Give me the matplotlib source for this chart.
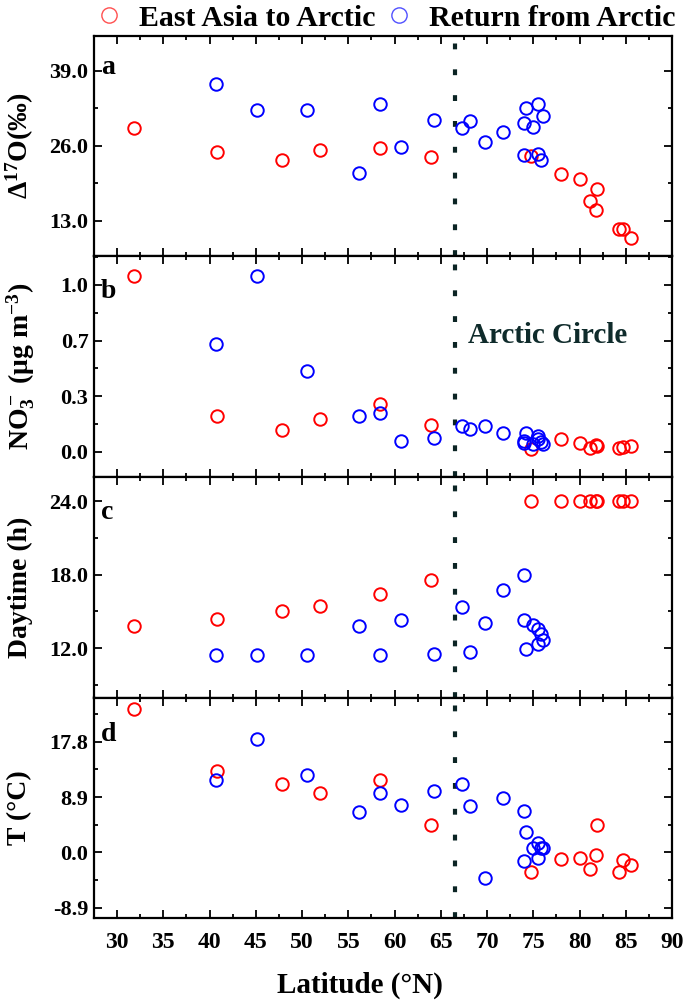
import matplotlib
matplotlib.use("Agg")
import matplotlib.pyplot as plt
from matplotlib.lines import Line2D
from matplotlib.ticker import MultipleLocator, FixedLocator, FixedFormatter

plt.rcParams['font.family'] = ['Liberation Serif', 'DejaVu Serif']
plt.rcParams['font.weight'] = 'bold'
plt.rcParams['mathtext.fontset'] = 'custom'
plt.rcParams['mathtext.rm'] = 'Liberation Serif:bold'
plt.rcParams['mathtext.it'] = 'Liberation Serif:italic:bold'
plt.rcParams['mathtext.bf'] = 'Liberation Serif:bold'

# ---------------- data ----------------
red_lat = [31.85, 40.85, 47.8, 51.9, 58.45, 63.9, 74.8, 77.95, 80.05, 81.1, 81.8, 81.9, 84.3, 84.7, 85.6]
red_d17O = [29.1, 24.95, 23.6, 25.2, 25.65, 24.05, 24.2, 21.1, 20.2, 16.45, 14.8, 18.45, 11.55, 11.55, 10.0]
red_no3 = [1.052, 0.213, 0.133, 0.199, 0.289, 0.161, 0.018, 0.076, 0.052, 0.022, 0.040, 0.036, 0.024, 0.028, 0.038]
red_day = [13.77, 14.4, 15.03, 15.46, 16.41, 17.56, 24.0, 24.0, 24.0, 24.0, 24.0, 24.0, 24.0, 24.0, 24.0]
red_T = [22.98, 13.09, 11.06, 9.62, 11.59, 4.38, -3.11, -1.12, -0.97, -2.73, -0.38, 4.38, -3.11, -1.23, -2.04]

blue_lat = [40.7, 45.15, 50.5, 56.15, 58.45, 60.65, 64.3, 67.25, 68.15, 69.8, 71.7,
            73.95, 74.05, 74.2, 74.95, 75.5, 75.55, 75.85, 76.05]
blue_d17O = [36.65, 32.1, 32.1, 21.35, 33.2, 25.8, 30.5, 29.1, 30.35, 26.7, 28.3,
             24.4, 29.9, 32.5, 29.3, 24.55, 33.25, 23.5, 31.2]
blue_no3 = [0.645, 1.052, 0.484, 0.215, 0.235, 0.068, 0.084, 0.158, 0.137, 0.157, 0.113,
            0.068, 0.056, 0.113, 0.050, 0.096, 0.080, 0.060, 0.046]
blue_day = [11.45, 11.45, 11.45, 13.8, 11.45, 14.26, 11.5, 15.35, 11.67, 14.07, 16.72,
            18.0, 14.32, 11.91, 13.88, 13.55, 12.35, 13.17, 12.7]
blue_T = [11.59, 18.17, 12.5, 6.51, 9.56, 7.64, 9.83, 11.06, 7.53, -4.12, 8.82,
          6.6, -1.3, 3.3, 0.64, 1.44, -0.96, 0.64, 0.7]

series_labels = ['East Asia to Arctic', 'Return from Arctic']
panel_letters = ['a', 'b', 'c', 'd']
ylabels = [r'$\Delta^{17}$O(‰)', r'NO$_3^-$ (μg m$^{-3}$)', 'Daytime (h)', 'T (°C)']
yticks = [[13.0, 26.0, 39.0], [0.0, 1/3, 2/3, 1.0], [12.0, 18.0, 24.0], [-8.9, 0.0, 8.9, 17.8]]
yticklabels = [['13.0', '26.0', '39.0'], ['0.0', '0.3', '0.7', '1.0'],
               ['12.0', '18.0', '24.0'], ['-8.9', '0.0', '8.9', '17.8']]
ylims = [(6.8, 45.0), (-0.15, 1.17), (7.97, 25.96), (-10.54, 24.9)]
yminor = [6.5, 1/6, 3.0, 4.45]
xticks = [30, 35, 40, 45, 50, 55, 60, 65, 70, 75, 80, 85, 90]
arctic_lat = 66.5

red_vals = [red_d17O, red_no3, red_day, red_T]
blue_vals = [blue_d17O, blue_no3, blue_day, blue_T]

# ---------------- figure ----------------
fig = plt.figure(figsize=(6.85, 10.05), dpi=100)
gs = fig.add_gridspec(4, 1, left=94/685, right=672/685, top=1-36/1005, bottom=1-918/1005, hspace=0)
axes = [fig.add_subplot(gs[i]) for i in range(4)]

RED = '#ff0000'
BLUE = '#0000ff'
ms = 9.0
mew = 1.4

for i, ax in enumerate(axes):
    ax.plot(red_lat, red_vals[i], linestyle='none', marker='o', markersize=ms,
            markerfacecolor='none', markeredgecolor=RED, markeredgewidth=mew, zorder=3)
    ax.plot(blue_lat, blue_vals[i], linestyle='none', marker='o', markersize=ms,
            markerfacecolor='none', markeredgecolor=BLUE, markeredgewidth=mew, zorder=4)
    ax.axvline(arctic_lat, color='#0b2424', linewidth=3.0, linestyle=(0, (1.4, 4.8)), zorder=2)
    ax.set_xlim(27.5, 90)
    ax.set_ylim(*ylims[i])
    ax.xaxis.set_major_locator(FixedLocator(xticks))
    ax.xaxis.set_minor_locator(MultipleLocator(2.5))
    ax.yaxis.set_major_locator(FixedLocator(yticks[i]))
    ax.yaxis.set_major_formatter(FixedFormatter(yticklabels[i]))
    ax.yaxis.set_minor_locator(MultipleLocator(yminor[i]))
    ax.tick_params(which='both', direction='in', top=True, right=True, width=1.3)
    ax.tick_params(which='major', length=6)
    ax.tick_params(which='minor', length=3)
    ax.tick_params(axis='y', labelsize=16, pad=4)
    for sp in ax.spines.values():
        sp.set_linewidth(1.6)
    ax.text(0.012, [0.855, 0.84, 0.84, 0.83][i], panel_letters[i], transform=ax.transAxes,
            fontsize=20, fontweight='bold', ha='left', va='center')
    ax.set_ylabel(ylabels[i], fontsize=20, fontweight='bold')
    ax.yaxis.label.set_va('center')
    ax.yaxis.set_label_coords(-0.128, 0.5)
    if i < 3:
        ax.tick_params(axis='x', labelbottom=False)

axes[3].tick_params(axis='x', labelsize=17, pad=10)
axes[3].set_xlabel('Latitude (°N)', fontsize=21, fontweight='bold')
axes[3].xaxis.label.set_va('center')
axes[3].xaxis.set_label_coords(0.46, -0.305)

axes[1].text(67.95, 0.695, 'Arctic Circle', fontsize=21, fontweight='bold',
             color='#0f2b2b', ha='left', va='center')

handles = [Line2D([], [], linestyle='none', marker='o', markersize=11, markerfacecolor='none',
                  markeredgecolor='#ff5050', markeredgewidth=1.0),
           Line2D([], [], linestyle='none', marker='o', markersize=11, markerfacecolor='none',
                  markeredgecolor='#5050ff', markeredgewidth=1.0)]
fig.legend(handles, series_labels, loc='center', bbox_to_anchor=(0.562, 1 - 18/1005), ncol=2,
           frameon=False, prop={'family': 'Liberation Serif', 'weight': 'bold', 'size': 21.5},
           handletextpad=0.5, columnspacing=0.3, borderaxespad=0, handlelength=1.0)

fig.savefig('out.png', dpi=100)
